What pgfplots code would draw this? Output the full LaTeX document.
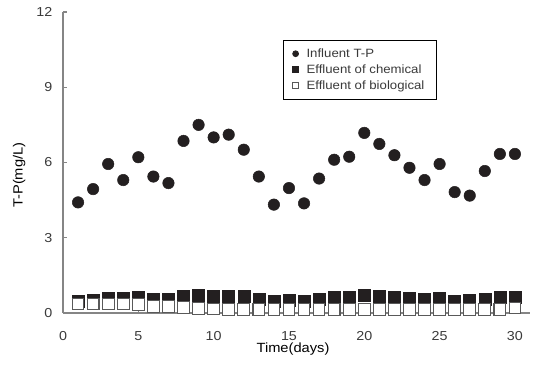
\documentclass[border=0pt]{standalone}
\usepackage{pgfplots}
\pgfplotsset{compat=1.18}
\usepackage{fontspec}
\setmainfont{Liberation Sans}[FakeStretch=1.1]
\definecolor{mk}{HTML}{231F20}
\definecolor{ax}{HTML}{858585}
\definecolor{txt}{HTML}{3A3A3A}
\begin{document}
\begin{tikzpicture}
\begin{axis}[
  at={(0,0)}, anchor=origin,
  scale only axis, width=350.25pt, height=225.75pt,
  xmin=0, xmax=31, ymin=0, ymax=12,
  axis x line*=bottom, axis y line*=left,
  axis line style={ax, line width=0.8pt, -},
  xtick={0,5,...,30}, ytick={0,3,...,12},
  tick align=inside, major tick length=3pt,
  tick style={ax, line width=0.8pt},
  ticklabel style={font=\fontsize{9.75}{11}\selectfont, text=txt},
  /pgf/number format/assume math mode=true,
  xticklabel style={yshift=-10.5pt},
  yticklabel style={xshift=-4.5pt},
  xlabel={Time(days)}, ylabel={T-P(mg/L)},
  label style={font=\fontsize{11}{13}\selectfont, text=txt},
  every axis x label/.style={at={(axis description cs:0.4925,-0.1196)}, anchor=center},
  every axis y label/.style={at={(axis description cs:-0.094,0.458)}, rotate=90, anchor=center},
  clip=false,
  legend style={at={(axis description cs:0.471,0.907)}, anchor=north west,
    draw=black, line width=0.6pt, font=\fontsize{9}{11}\selectfont, text=txt,
    row sep=0pt, column sep=4pt, inner xsep=7pt, inner ysep=4pt},
  legend cell align=left,
  legend image post style={mark size=2.2pt},
]
\addplot[only marks, mark=*, mark size=4.3pt, mk] coordinates {
(1,4.41)(2,4.94)(3,5.94)(4,5.30)(5,6.21)(6,5.44)(7,5.18)(8,6.86)(9,7.50)(10,7.00)
(11,7.11)(12,6.51)(13,5.44)(14,4.32)(15,4.98)(16,4.37)(17,5.36)(18,6.11)(19,6.23)(20,7.18)
(21,6.74)(22,6.29)(23,5.79)(24,5.30)(25,5.94)(26,4.82)(27,4.68)(28,5.66)(29,6.34)(30,6.34)};
\addlegendentry{Influent T-P}
\addplot[only marks, mark=square*, mark size=4.5pt, mk] coordinates {
(1,0.46)(2,0.50)(3,0.60)(4,0.60)(5,0.64)(6,0.54)(7,0.54)(8,0.68)(9,0.72)(10,0.68)
(11,0.68)(12,0.68)(13,0.54)(14,0.46)(15,0.50)(16,0.46)(17,0.54)(18,0.62)(19,0.62)(20,0.72)
(21,0.68)(22,0.62)(23,0.58)(24,0.54)(25,0.60)(26,0.46)(27,0.50)(28,0.55)(29,0.62)(30,0.62)};
\addlegendentry{Effluent of chemical}
\addplot[only marks, mark=square*, mark size=4.4pt, mark options={fill=white, draw=black!65, line width=0.8pt}] coordinates {
(1,0.36)(2,0.36)(3,0.36)(4,0.36)(5,0.34)(6,0.26)(7,0.26)(8,0.22)(9,0.19)(10,0.16)
(11,0.15)(12,0.15)(13,0.15)(14,0.15)(15,0.15)(16,0.15)(17,0.15)(18,0.15)(19,0.15)(20,0.15)
(21,0.15)(22,0.15)(23,0.15)(24,0.15)(25,0.15)(26,0.15)(27,0.15)(28,0.15)(29,0.15)(30,0.20)};
\addlegendentry{Effluent of biological}
\end{axis}
\pgfresetboundingbox
\path[use as bounding box] (-47.25pt,-40.5pt) rectangle (352.5pt,234.75pt);
\end{tikzpicture}
\end{document}
